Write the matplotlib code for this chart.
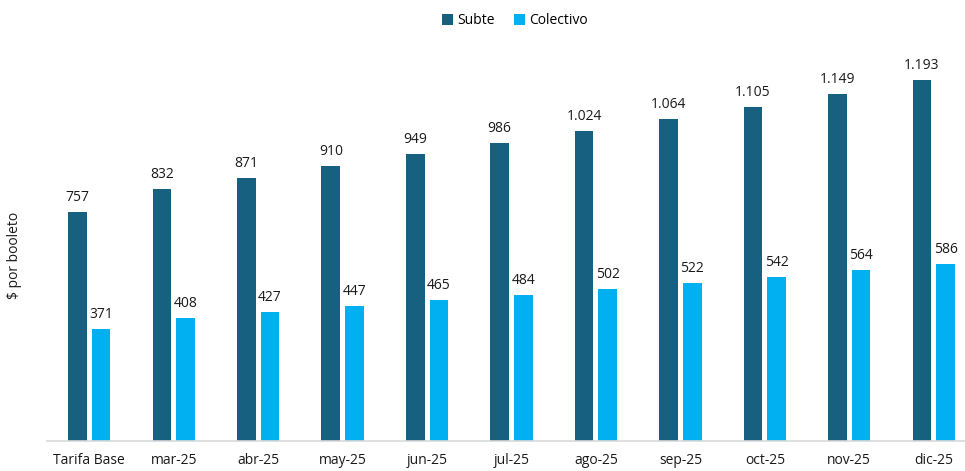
import matplotlib.pyplot as plt
import numpy as np

categorias = ['Tarifa Base', 'mar-25', 'abr-25', 'may-25', 'jun-25', 'jul-25',
              'ago-25', 'sep-25', 'oct-25', 'nov-25', 'dic-25']
subte = [757, 832, 871, 910, 949, 986, 1024, 1064, 1105, 1149, 1193]
colectivo = [371, 408, 427, 447, 465, 484, 502, 522, 542, 564, 586]


def fmt(v):
    # separador de miles con punto
    return f'{v:,}'.replace(',', '.')


plt.rcParams['font.family'] = ['Open Sans', 'DejaVu Sans']

fig = plt.figure(figsize=(9.65, 4.71), dpi=100)
ax = fig.add_axes([47 / 965, 30 / 471, 918 / 965, 401 / 471])

x = np.arange(len(categorias))
w = 0.22
off = 0.14
b1 = ax.bar(x - off, subte, w, color='#17607F', label='Subte')
b2 = ax.bar(x + off, colectivo, w, color='#00B0F0', label='Colectivo')

for rects, vals in ((b1, subte), (b2, colectivo)):
    for r, v in zip(rects, vals):
        ax.annotate(fmt(v), (r.get_x() + r.get_width() / 2, v), xytext=(0, 5),
                    textcoords='offset points', ha='center', va='bottom',
                    fontsize=10, color='#1a1a1a')

ax.set_xlim(-0.5, 10.37)
ax.set_ylim(0, 1326)
ax.set_xticks(x)
ax.set_xticklabels(categorias, fontsize=10, color='#1a1a1a')
ax.tick_params(axis='x', length=0, pad=9)
ax.set_yticks([])
for s in ['top', 'right', 'left']:
    ax.spines[s].set_visible(False)
ax.spines['bottom'].set_color('#d9d9d9')
ax.spines['bottom'].set_linewidth(1.2)

fig.text(15 / 965, 1 - 255 / 471, '$ por booleto', rotation=90, ha='center',
         va='center', fontsize=10, color='#1a1a1a')

fig.legend(loc='center', bbox_to_anchor=(515 / 965, 1 - 21 / 471), ncol=2, frameon=False,
           fontsize=10, handlelength=0.8, handleheight=0.8, handletextpad=0.3,
           columnspacing=1.4)

fig.savefig('out.png', dpi=100)
